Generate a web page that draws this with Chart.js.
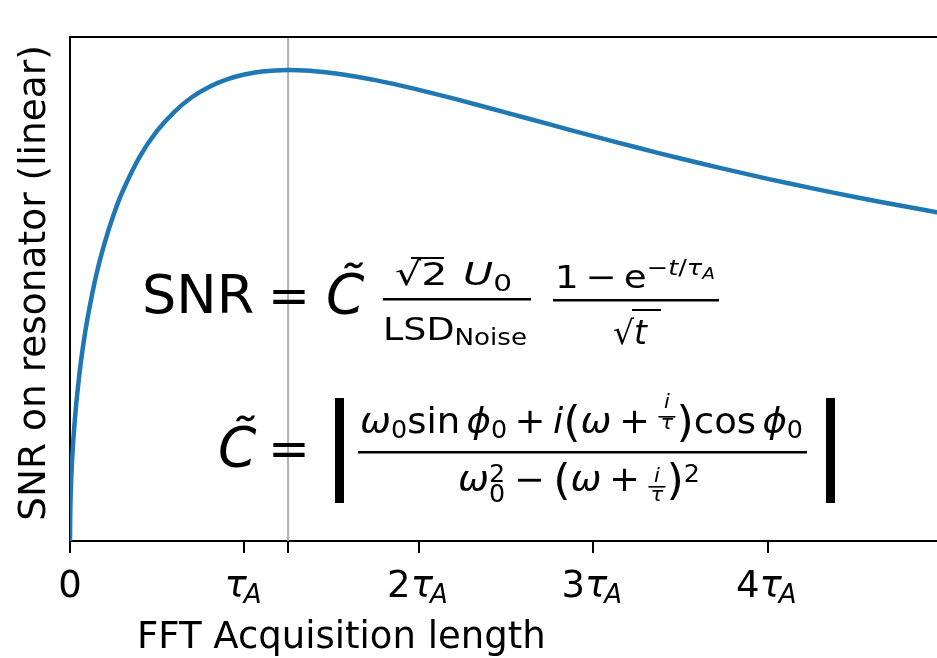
<!DOCTYPE html>
<html><head><meta charset="utf-8">
<script src="https://cdn.jsdelivr.net/npm/chart.js@4"></script>
<style>html,body{margin:0;padding:0;background:#fff;overflow:hidden}canvas{display:block}</style>
</head><body><canvas id="c" width="937" height="658"></canvas>
<script>
// ---- data ----
const tValues   = [0, 0.002, 0.005, 0.01, 0.02, 0.035, 0.05, 0.07, 0.1, 0.15, 0.2, 0.25, 0.3, 0.4, 0.5, 0.6, 0.7, 0.8, 0.9, 1.0, 1.1, 1.25, 1.4, 1.5, 1.75, 2.0, 2.25, 2.5, 2.75, 3.0, 3.25, 3.5, 3.75, 4.0, 4.25, 4.5, 4.75, 4.97];
const snrValues = [0, 0.045, 0.070, 0.100, 0.140, 0.184, 0.218, 0.256, 0.301, 0.360, 0.405, 0.442, 0.473, 0.521, 0.556, 0.582, 0.6017, 0.6157, 0.6255, 0.6321, 0.6361, 0.6382, 0.6367, 0.6343, 0.6246, 0.6114, 0.5964, 0.5805, 0.5645, 0.5486, 0.5332, 0.5184, 0.5043, 0.4908, 0.4782, 0.4662, 0.4549, 0.4455];
const xTickValues = [0, 1, 1.25, 2, 3, 4];
const xLabelValues = [0, 1, 2, 3, 4];
const xLabels = ['0', 'τ_A', '2τ_A', '3τ_A', '4τ_A'];
const peakT = 1.25;
const xMax = 4.97;
const yMax = 0.683;
const xTitle = 'FFT Acquisition length';
const yTitle = 'SNR on resonator (linear)';

const FAM = "'DejaVu Sans'";
function fnt(size, it){ return (it ? 'italic ' : '') + size + 'px ' + FAM; }
function txt(ctx, s, x, y, size, it, align){
  ctx.font = fnt(size, it); ctx.textAlign = align || 'left'; ctx.textBaseline = 'alphabetic';
  ctx.fillText(s, x, y);
}
function itemW(ctx, it){
  if (it.gap !== undefined) return it.gap;
  if (it.frac){ ctx.font = fnt(it.size, true); return Math.max(ctx.measureText(it.frac[0]).width, ctx.measureText(it.frac[1]).width) + 6; }
  if (it.stack){ ctx.font = fnt(it.size, false); return Math.max(...it.stack.map(s => ctx.measureText(s).width)); }
  ctx.font = fnt(it[1], it[2]); return ctx.measureText(it[0]).width;
}
function drawItem(ctx, it, x){
  if (it.gap !== undefined) return it.gap;
  if (it.frac){
    const w = itemW(ctx, it);
    txt(ctx, it.frac[0], x + w/2, it.dn, it.size, true, 'center');
    ctx.fillRect(x + 1, it.dl, w - 2, 1.6);
    txt(ctx, it.frac[1], x + w/2, it.dd, it.size, true, 'center');
    return w;
  }
  if (it.stack){
    txt(ctx, it.stack[0], x, it.dy[0], it.size, false);
    txt(ctx, it.stack[1], x, it.dy[1], it.size, false);
    return itemW(ctx, it);
  }
  txt(ctx, it[0], x, it[3] || 0, it[1], it[2]);
  return itemW(ctx, it);
}
function run(ctx, items, x, y, target){
  let total = 0; items.forEach(it => total += itemW(ctx, it));
  const sx = target ? target / total : 1;
  ctx.save(); ctx.translate(x, y); ctx.scale(sx, 1);
  let cx = 0; items.forEach(it => { cx += drawItem(ctx, it, cx); });
  ctx.restore();
}

const annot = {
  id: 'annot',
  beforeDatasetsDraw(chart){
    const {ctx, chartArea: a, scales: {x}} = chart;
    const px = x.getPixelForValue(peakT);
    ctx.save(); ctx.strokeStyle = '#b0b0b0'; ctx.lineWidth = 2;
    ctx.beginPath(); ctx.moveTo(px, a.top); ctx.lineTo(px, a.bottom); ctx.stroke(); ctx.restore();
  },
  afterDraw(chart){
    const {ctx, chartArea: a, scales: {x}} = chart;
    ctx.save();
    ctx.fillStyle = '#000'; ctx.strokeStyle = '#000';
    // top spine
    ctx.lineWidth = 2; ctx.beginPath(); ctx.moveTo(a.left - 1, a.top); ctx.lineTo(a.right, a.top); ctx.stroke();
    // x tick labels
    xLabelValues.forEach((v, i) => {
      const px = x.getPixelForValue(v);
      const parts = xLabels[i].split('_');
      const main = parts[0], sub = parts[1];
      const pre = main.replace('τ', ''), hasTau = main.indexOf('τ') >= 0;
      ctx.font = fnt(37, false); const wPre = ctx.measureText(pre).width;
      ctx.font = fnt(37, true); const wTau = hasTau ? ctx.measureText('τ').width : 0;
      ctx.font = fnt(26, true); const wSub = sub ? ctx.measureText(sub).width : 0;
      let sx = px - (wPre + wTau + wSub) / 2;
      txt(ctx, pre, sx, 597, 37, false); sx += wPre;
      if (hasTau){ txt(ctx, 'τ', sx, 597, 37, true); sx += wTau - 3; }
      if (sub) txt(ctx, sub, sx, 603, 26, true);
    });
    // axis titles
    txt(ctx, xTitle, 137, 648, 37, false);
    ctx.save(); ctx.translate(45, 283); ctx.rotate(-Math.PI/2); txt(ctx, yTitle, 0, 0, 37.5, false, 'center'); ctx.restore();

    // ---- formula 1 ----
    txt(ctx, 'SNR', 142, 313, 54, false);
    txt(ctx, '=', 268, 313, 50, false);
    txt(ctx, 'C\u0303', 326, 313, 55, true);
    ctx.fillRect(383, 298, 148, 2.5);
    run(ctx, [['√',32,false],['2',32,false],{gap:12},['U',32,true],['0',23,false,6]], 395, 285, 117);
    ctx.fillRect(411, 257, 33, 2);
    run(ctx, [['LSD',32,false],['Noise',23,false,5]], 383, 340, 144);
    ctx.fillRect(553, 299, 166, 2.5);
    run(ctx, [['1',32,false],{gap:6},['−',32,false],{gap:6},['e',32,false],['−',22,false,-13],['t',22,true,-13],['/',22,false,-13],['τ',22,true,-13],['A',16,true,-9]], 555, 288, 160);
    txt(ctx, '√', 613, 344, 33, false);
    ctx.fillRect(632, 309, 29, 2);
    txt(ctx, 't', 634, 344, 33, true);

    // ---- formula 2 ----
    txt(ctx, 'C\u0303', 218, 466, 55, true);
    txt(ctx, '=', 268, 466, 50, false);
    ctx.fillRect(335, 398, 9, 105);
    ctx.fillRect(826, 398, 9, 105);
    ctx.fillRect(358, 451, 449, 2.5);
    const sf = {frac:['i','τ'], size:20, dn:-25, dl:-17, dd:-4};
    run(ctx, [['ω',35,true],['0',24,false,5],['sin',35,false],{gap:6},['ϕ',35,true],['0',24,false,5],{gap:7},['+',35,false],{gap:7},['i',35,true],['(',42,false,4],['ω',35,true],{gap:7},['+',35,false],{gap:7},sf,[')',42,false,4],['cos',35,false],{gap:6},['ϕ',35,true],['0',24,false,5]], 360, 433, 443);
    const sf2 = {frac:['i','τ'], size:20, dn:-9, dl:-5, dd:10};
    run(ctx, [['ω',35,true],{stack:['2','0'], size:24, dy:[-9,11]},{gap:8},['−',35,false],{gap:8},['(',42,false,4],['ω',35,true],{gap:7},['+',35,false],{gap:7},sf2,[')',42,false,4],['2',24,false,-9]], 458, 491, 242);
    ctx.restore();
  }
};

new Chart(document.getElementById('c').getContext('2d'), {
  type: 'line',
  data: { datasets: [{
    data: tValues.map((t, i) => ({x: t, y: snrValues[i]})),
    borderColor: '#1f77b4', borderWidth: 4.5, pointRadius: 0,
    tension: 0.4, fill: false, borderJoinStyle: 'round', borderCapStyle: 'round'
  }]},
  options: {
    responsive: false, devicePixelRatio: 1, animation: false, events: [],
    layout: { padding: { top: 37, left: 0, right: 0, bottom: 0 } },
    plugins: { legend: { display: false }, tooltip: { enabled: false } },
    scales: {
      x: { type: 'linear', min: 0, max: xMax,
           afterBuildTicks: s => { s.ticks = xTickValues.map(v => ({value: v})); },
           afterFit: s => { s.height = 117; },
           ticks: { display: false },
           grid: { display: true, drawOnChartArea: false, drawTicks: true, tickLength: 12, color: '#000', lineWidth: 2 },
           border: { display: true, color: '#000', width: 2 } },
      y: { type: 'linear', min: 0, max: yMax,
           afterFit: s => { s.width = 70; },
           ticks: { display: false },
           grid: { display: false },
           border: { display: true, color: '#000', width: 2 } }
    }
  },
  plugins: [annot]
});
</script></body></html>
